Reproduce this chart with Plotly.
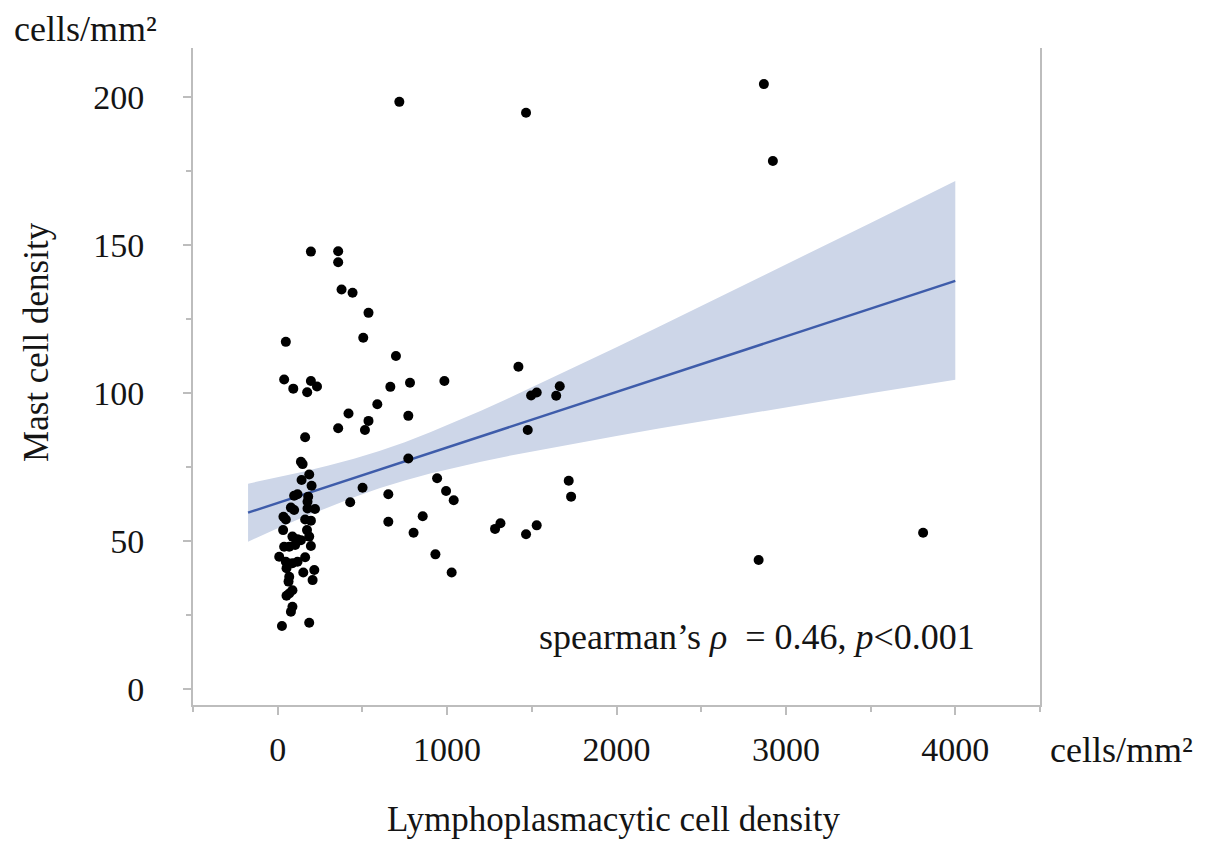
import plotly.graph_objects as go

# ---- scatter data (Lymphoplasmacytic cell density vs Mast cell density) ----
lp_density = [
    718, 1466, 196, 357, 357, 377, 442, 536, 48, 505,
    698, 1421, 38, 92, 196, 232, 174, 665, 781, 984,
    1496, 1529, 1665, 1644, 588, 418, 536, 357, 515, 771,
    1476, 162, 771, 941, 501, 428, 653, 994, 1039, 1718,
    1732, 653, 856, 802, 1283, 1315, 1466, 1529, 931, 1027,
    137, 147, 186, 141, 200, 117, 97, 180, 176, 78,
    97, 220, 162, 196, 34, 48, 173, 32, 87, 117,
    137, 38, 68, 103, 196, 186, 9, 48, 87, 117,
    162, 52, 151, 216, 206, 68, 64, 87, 68, 52,
    87, 78, 25, 186, 176,
    2870, 2923, 3810, 2839,
]
mast_density = [
    198.5, 194.8, 147.9, 148.0, 144.3, 135.1, 134.0, 127.2, 117.4, 118.8,
    112.6, 109.0, 104.7, 101.6, 104.2, 102.3, 100.4, 102.2, 103.6, 104.2,
    99.3, 100.3, 102.4, 99.2, 96.3, 93.2, 90.7, 88.2, 87.6, 92.4,
    87.6, 85.2, 78.0, 71.3, 68.1, 63.2, 65.9, 67.0, 63.9, 70.5,
    65.1, 56.6, 58.5, 52.9, 54.2, 56.1, 52.4, 55.4, 45.6, 39.5,
    76.9, 76.1, 72.6, 70.7, 68.8, 65.9, 65.4, 65.1, 63.4, 61.4,
    60.6, 60.9, 57.4, 57.0, 58.3, 57.4, 53.8, 53.8, 51.6, 50.7,
    50.4, 48.2, 48.2, 48.8, 48.4, 51.6, 44.8, 43.1, 42.6, 43.1,
    44.6, 40.9, 39.5, 40.3, 36.9, 38.0, 36.4, 33.5, 32.4, 31.6,
    27.9, 26.2, 21.4, 22.5, 61.1,
    204.5, 178.5, 52.9, 43.7,
]

# ---- regression line and confidence band ----
fit_x = [-175, 4000]
fit_y = [59.7, 138.0]
band_x = [-175, 0, 150, 300, 450, 600, 750, 900, 1050, 1200, 1350, 1500,
          1750, 2000, 2250, 2500, 3000, 3500, 4000]
band_upper = [69.5, 71.6, 73.5, 75.6, 77.9, 80.5, 83.5, 86.9, 90.4, 94.1, 98.0, 102.0,
              108.7, 115.6, 122.5, 129.5, 143.5, 157.6, 171.8]
band_lower = [49.9, 54.4, 58.1, 61.6, 64.9, 67.9, 70.6, 72.9, 75.0, 76.9, 78.7, 80.4,
              83.0, 85.6, 88.1, 90.5, 95.3, 100.0, 104.6]

x_ticks = [0, 1000, 2000, 3000, 4000]
y_ticks = [0, 50, 100, 150, 200]

FONT = "Liberation Serif"
AXIS_GRAY = "#bdbdbd"
TXT = "#141414"

fig = go.Figure()
fig.add_trace(go.Scatter(
    x=band_x + band_x[::-1],
    y=band_upper + band_lower[::-1],
    fill="toself", fillcolor="rgb(205,214,232)",
    line=dict(width=0), mode="lines", hoverinfo="skip", showlegend=False,
))
fig.add_trace(go.Scatter(
    x=fit_x, y=fit_y, mode="lines",
    line=dict(color="rgb(62,92,170)", width=2.5), showlegend=False,
))
fig.add_trace(go.Scatter(
    x=lp_density, y=mast_density, mode="markers",
    marker=dict(color="black", size=10), showlegend=False,
))

axis_common = dict(
    showline=True, linecolor=AXIS_GRAY, linewidth=2,
    ticks="outside", ticklen=8, tickwidth=2, tickcolor=AXIS_GRAY,
    showgrid=False, zeroline=False,
    tickfont=dict(family=FONT, size=34, color=TXT),
)

# the html page body has an 8px margin, so the figure is drawn 8px smaller
fig.update_layout(
    width=1201, height=833,
    margin=dict(l=185, r=169, t=40, b=136, pad=0),
    plot_bgcolor="white", paper_bgcolor="white",
    xaxis=dict(
        range=[-500, 4500], tickvals=x_ticks, ticktext=[str(v) for v in x_ticks],
        minor=dict(dtick=500, tick0=0, ticks="outside", ticklen=5, tickwidth=2,
                   tickcolor=AXIS_GRAY, showgrid=False),
        ticklabelstandoff=5,
        **axis_common,
    ),
    yaxis=dict(
        range=[-5.3, 216.7], tickvals=y_ticks, ticktext=[str(v) for v in y_ticks],
        minor=dict(dtick=25, tick0=0, ticks="outside", ticklen=5, tickwidth=2,
                   tickcolor=AXIS_GRAY, showgrid=False),
        mirror=True, ticklabelstandoff=32,
        **axis_common,
    ),
    annotations=[
        dict(text="cells/mm²", xref="paper", yref="paper",
             x=-0.2137, y=1.029, xanchor="left", yanchor="middle", showarrow=False,
             font=dict(family=FONT, size=36, color=TXT)),
        dict(text="cells/mm²", xref="paper", yref="paper",
             x=1.0094, y=-0.0685, xanchor="left", yanchor="middle", showarrow=False,
             font=dict(family=FONT, size=36, color=TXT)),
        dict(text="Mast cell density", xref="paper", yref="paper",
             x=-0.1854, y=0.5525, xanchor="center", yanchor="middle", textangle=-90,
             showarrow=False, font=dict(family=FONT, size=35, color=TXT)),
        dict(text="Lymphoplasmacytic cell density", xref="paper", yref="paper",
             x=0.497, y=-0.175, xanchor="center", yanchor="middle", showarrow=False,
             font=dict(family=FONT, size=35, color=TXT)),
        dict(text="spearman\u2019s <i>ρ</i>  = 0.46, <i>p</i>&lt;0.001", xref="x", yref="y",
             x=1533, y=17.7, xanchor="left", yanchor="middle", showarrow=False,
             font=dict(family=FONT, size=36, color=TXT)),
    ],
)

fig.write_html("out.html")
